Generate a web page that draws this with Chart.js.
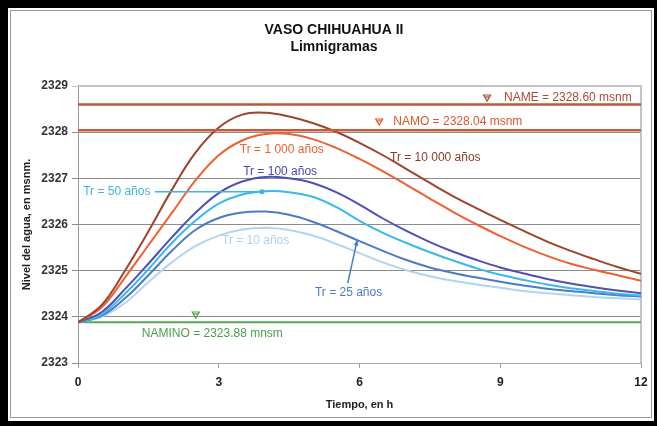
<!DOCTYPE html>
<html>
<head>
<meta charset="utf-8">
<script src="https://cdn.jsdelivr.net/npm/chart.js@4.4.1/dist/chart.umd.min.js"></script>
<style>
  html, body { margin: 0; padding: 0; background: #000; }
  #wrap { width: 657px; height: 426px; position: relative; }
</style>
</head>
<body>
<div id="wrap"><canvas id="limniChart" width="657" height="426"></canvas></div>
<script>
// tiempo, en h
var hours = [0, 0.5, 1, 1.5, 2, 2.5, 3, 3.5, 4, 4.5, 5, 5.5, 6, 6.5, 7, 7.5, 8, 8.5, 9, 9.5, 10, 10.5, 11, 11.5, 12];

// nivel del agua (msnm) por periodo de retorno
var tr10000 = [2323.88, 2324.25, 2325.00, 2325.85, 2326.75, 2327.55, 2328.10, 2328.38, 2328.42, 2328.34, 2328.20, 2328.01, 2327.77, 2327.50, 2327.20, 2326.90, 2326.61, 2326.35, 2326.10, 2325.86, 2325.63, 2325.43, 2325.25, 2325.08, 2324.93];
var tr1000  = [2323.88, 2324.20, 2324.85, 2325.55, 2326.25, 2326.95, 2327.50, 2327.82, 2327.96, 2327.96, 2327.85, 2327.66, 2327.42, 2327.15, 2326.86, 2326.56, 2326.27, 2326.00, 2325.75, 2325.52, 2325.32, 2325.15, 2325.02, 2324.90, 2324.78];
var tr100   = [2323.88, 2324.10, 2324.60, 2325.15, 2325.72, 2326.25, 2326.68, 2326.93, 2327.03, 2327.00, 2326.90, 2326.70, 2326.43, 2326.13, 2325.86, 2325.62, 2325.41, 2325.23, 2325.07, 2324.94, 2324.82, 2324.72, 2324.64, 2324.57, 2324.51];
var tr50    = [2323.88, 2324.05, 2324.50, 2325.03, 2325.60, 2326.08, 2326.45, 2326.65, 2326.72, 2326.70, 2326.60, 2326.38, 2326.08, 2325.82, 2325.60, 2325.40, 2325.22, 2325.05, 2324.91, 2324.80, 2324.70, 2324.62, 2324.56, 2324.50, 2324.46];
var tr25    = [2323.88, 2324.02, 2324.40, 2324.90, 2325.43, 2325.88, 2326.14, 2326.26, 2326.28, 2326.21, 2326.06, 2325.86, 2325.64, 2325.43, 2325.23, 2325.07, 2324.95, 2324.85, 2324.76, 2324.68, 2324.61, 2324.56, 2324.51, 2324.47, 2324.44];
var tr10    = [2323.88, 2324.00, 2324.30, 2324.75, 2325.18, 2325.53, 2325.76, 2325.89, 2325.93, 2325.88, 2325.76, 2325.58, 2325.38, 2325.18, 2325.01, 2324.88, 2324.78, 2324.70, 2324.63, 2324.56, 2324.51, 2324.47, 2324.43, 2324.40, 2324.38];

// niveles de referencia
var levelNames = ['NAME', 'NAMO', 'NAMINO'];
var levelValues = [2328.60, 2328.04, 2323.88];

var yTicks = [2323, 2324, 2325, 2326, 2327, 2328, 2329];
var xTicks = [0, 3, 6, 9, 12];

function pts(arr) {
    return hours.map(function (h, i) { return { x: h, y: arr[i] }; });
}
function flat(v) {
    return [{ x: hours[0], y: v }, { x: hours[hours.length - 1], y: v }];
}

var FONT = "'Liberation Sans', Arial, sans-serif";

// etiquetas sobre la grafica (en coordenadas de datos)
var notes = [
    { text: 'NAME = 2328.60 msnm', x: 9.08, y: 2328.74, color: '#ad4a30', tri: 8.72 },
    { text: 'NAMO = 2328.04 msnm', x: 6.72, y: 2328.22, color: '#e0552c', tri: 6.42 },
    { text: 'Tr = 10 000 años', x: 6.65, y: 2327.44, color: '#8e3b26' },
    { text: 'Tr = 1 000 años', x: 3.45, y: 2327.61, color: '#f0602f' },
    { text: 'Tr = 100 años', x: 3.52, y: 2327.14, color: '#4848a8' },
    { text: 'Tr = 50 años', x: 0.11, y: 2326.70, color: '#3ab6e6' },
    { text: 'Tr = 10 años', x: 3.07, y: 2325.66, color: '#a9d2f0' },
    { text: 'Tr = 25 años', x: 5.05, y: 2324.52, color: '#4a7bc6' },
    { text: 'NAMINO = 2323.88 mnsm', x: 1.36, y: 2323.63, color: '#4a9e4a', tri: 2.51, triY: 2324.04 }
];

var framePlugin = {
    id: 'frame',
    beforeDraw: function (chart) {
        var c = chart.ctx;
        c.save();
        c.fillStyle = '#000';
        c.fillRect(0, 0, 657, 426);
        c.fillStyle = '#fff';
        c.fillRect(8, 8, 646, 413);
        c.strokeStyle = '#9a9a9a';
        c.lineWidth = 1;
        c.strokeRect(10.5, 10.5, 641, 407);
        // titulo
        c.fillStyle = '#111';
        c.textAlign = 'center';
        c.textBaseline = 'middle';
        c.font = 'bold 14px ' + FONT;
        c.fillText('VASO CHIHUAHUA II', 334, 30);
        c.fillText('Limnigramas', 334, 47);
        c.restore();
    },
    beforeDatasetsDraw: function (chart) {
        var a = chart.chartArea, c = chart.ctx;
        c.save();
        c.strokeStyle = '#c4c4c4';
        c.lineWidth = 2;
        c.beginPath();
        c.moveTo(a.left, a.top);
        c.lineTo(a.right, a.top);
        c.lineTo(a.right, a.bottom);
        c.stroke();
        c.restore();
    },
    afterDatasetsDraw: function (chart) {
        var xs = chart.scales.x, ys = chart.scales.y, c = chart.ctx;
        c.save();
        c.font = '12px ' + FONT;
        c.textAlign = 'left';
        c.textBaseline = 'middle';
        notes.forEach(function (n) {
            var px = xs.getPixelForValue(n.x), py = ys.getPixelForValue(n.y);
            c.fillStyle = n.color;
            c.fillText(n.text, px, py);
            if (n.tri !== undefined) {
                var tx = xs.getPixelForValue(n.tri);
                var ty = ys.getPixelForValue(n.triY !== undefined ? n.triY : n.y);
                c.strokeStyle = n.color;
                c.lineWidth = 1.2;
                c.beginPath();
                c.moveTo(tx - 3.5, ty - 3);
                c.lineTo(tx + 3.5, ty - 3);
                c.lineTo(tx, ty + 3);
                c.closePath();
                c.stroke();
                c.beginPath();
                c.moveTo(tx - 2, ty - 1);
                c.lineTo(tx + 2, ty - 1);
                c.stroke();
            }
        });
        // flecha Tr = 50
        var y50 = ys.getPixelForValue(2326.71);
        var xa = xs.getPixelForValue(1.64), xb = xs.getPixelForValue(3.92);
        c.strokeStyle = '#3ab6e6';
        c.fillStyle = '#3ab6e6';
        c.lineWidth = 1.5;
        c.beginPath();
        c.moveTo(xa, y50);
        c.lineTo(xb, y50);
        c.stroke();
        c.beginPath();
        c.arc(xb, y50, 2.5, 0, Math.PI * 2);
        c.fill();
        // flecha Tr = 25
        var p1x = xs.getPixelForValue(5.75), p1y = ys.getPixelForValue(2324.73);
        var p2x = xs.getPixelForValue(5.95), p2y = ys.getPixelForValue(2325.66);
        c.strokeStyle = '#4a7bc6';
        c.fillStyle = '#4a7bc6';
        c.beginPath();
        c.moveTo(p1x, p1y);
        c.lineTo(p2x, p2y);
        c.stroke();
        var ang = Math.atan2(p2y - p1y, p2x - p1x);
        c.beginPath();
        c.moveTo(p2x, p2y);
        c.lineTo(p2x - 6 * Math.cos(ang - 0.4), p2y - 6 * Math.sin(ang - 0.4));
        c.lineTo(p2x - 6 * Math.cos(ang + 0.4), p2y - 6 * Math.sin(ang + 0.4));
        c.closePath();
        c.fill();
        c.restore();
    }
};

function curve(label, arr, color) {
    return {
        label: label,
        data: pts(arr),
        borderColor: color,
        borderWidth: 2,
        pointRadius: 0,
        tension: 0.4,
        fill: false
    };
}
function level(i, color, width) {
    return {
        label: levelNames[i],
        data: flat(levelValues[i]),
        borderColor: color,
        borderWidth: width,
        pointRadius: 0,
        fill: false
    };
}

var ctx = document.getElementById('limniChart').getContext('2d');
var limniChart = new Chart(ctx, {
    type: 'line',
    data: {
        datasets: [
            level(0, '#bf563a', 2.5),
            level(1, '#cf5736', 2.5),
            curve('Tr = 10 000 años', tr10000, '#9e432c'),
            curve('Tr = 1 000 años', tr1000, '#f0602f'),
            curve('Tr = 100 años', tr100, '#5050b4'),
            curve('Tr = 50 años', tr50, '#3ab8ea'),
            curve('Tr = 25 años', tr25, '#4a7bc8'),
            curve('Tr = 10 años', tr10, '#b0d5f2'),
            level(2, '#55a855', 2)
        ]
    },
    options: {
        responsive: false,
        animation: false,
        devicePixelRatio: 1,
        layout: { padding: { left: 10, right: 16, top: 86, bottom: 10 } },
        plugins: {
            legend: { display: false },
            tooltip: { enabled: false },
            title: { display: false }
        },
        scales: {
            x: {
                type: 'linear',
                min: 0,
                max: 12,
                afterBuildTicks: function (s) { s.ticks = xTicks.map(function (v) { return { value: v }; }); },
                afterFit: function (s) { s.height = 53; },
                grid: { drawOnChartArea: false, drawTicks: true, tickLength: 5, color: '#999' },
                border: { color: '#a8a8a8', width: 1 },
                ticks: { color: '#222', padding: 7, font: { family: FONT, size: 12, weight: 'bold' },
                         callback: function (v) { return String(v); } },
                title: { display: true, text: 'Tiempo, en h', color: '#222', padding: { top: 0, bottom: 4 },
                         font: { family: FONT, size: 11, weight: 'bold' } }
            },
            y: {
                min: 2323,
                max: 2329,
                afterBuildTicks: function (s) { s.ticks = yTicks.map(function (v) { return { value: v }; }); },
                afterFit: function (s) { s.width = 68; },
                grid: {
                    color: function (c) { return c.tick && c.tick.value === 2329 ? '#c4c4c4' : '#8c8c8c'; },
                    lineWidth: 1,
                    tickLength: 6
                },
                border: { color: '#9a9a9a', width: 1 },
                ticks: { color: '#333', padding: 4, font: { family: FONT, size: 12, weight: 'bold' },
                         callback: function (v) { return String(v); } },
                title: { display: true, text: 'Nivel del agua, en msnm.', color: '#222', padding: { top: 10, bottom: 0 },
                         font: { family: FONT, size: 11, weight: 'bold' } }
            }
        }
    },
    plugins: [framePlugin]
});
</script>
</body>
</html>
